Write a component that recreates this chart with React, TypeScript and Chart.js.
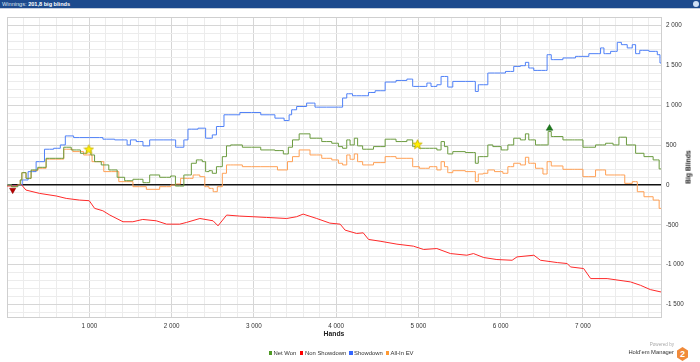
import React, { useEffect, useRef } from 'react';
import { Chart, registerables } from 'chart.js';
Chart.register(...registerables);

// ---- data (hands / big blinds) ----
const netWonHands = [0, 110, 150, 172, 190, 273, 313, 435, 516, 659, 720, 842, 943, 995, 1044, 1085, 1207, 1268, 1410, 1450, 1612, 1694, 1775, 1937, 2040, 2055, 2140, 2160, 2221, 2261, 2343, 2404, 2425, 2486, 2505, 2587, 2648, 2688, 2749, 2973, 3196, 3318, 3400, 3440, 3501, 3602, 3765, 3887, 4008, 4049, 4110, 4150, 4191, 4252, 4272, 4374, 4536, 4658, 4800, 4922, 4941, 5084, 5185, 5266, 5287, 5348, 5368, 5470, 5673, 5713, 5745, 5835, 5855, 5957, 6058, 6119, 6200, 6281, 6322, 6363, 6485, 6570, 6586, 6646, 6870, 6930, 7073, 7236, 7317, 7418, 7459, 7601, 7682, 7804, 7905, 7950];
const netWonValues = [0, -21, 0, 63, 155, 84, 189, 222, 335, 335, 474, 440, 398, 440, 377, 293, 252, 189, 97, 54, 72, 29, 126, 97, 113, -13, -13, 126, 126, 273, 315, 293, 168, 180, 147, 230, 356, 491, 503, 474, 440, 432, 390, 474, 566, 642, 587, 545, 524, 482, 461, 566, 503, 587, 491, 449, 482, 575, 545, 566, 482, 461, 461, 440, 545, 482, 390, 419, 407, 273, 356, 356, 503, 482, 440, 503, 587, 566, 642, 566, 503, 503, 671, 608, 566, 566, 474, 503, 524, 503, 600, 503, 398, 356, 315, 202];

const nonShowdownHands = [0, 100, 170, 230, 395, 600, 720, 880, 1000, 1065, 1165, 1250, 1410, 1530, 1650, 1815, 1940, 2100, 2180, 2345, 2505, 2565, 2670, 2830, 2990, 3155, 3400, 3520, 3600, 3765, 3925, 4050, 4110, 4250, 4330, 4395, 4535, 4740, 4940, 5065, 5225, 5390, 5590, 5670, 5795, 5955, 6140, 6200, 6405, 6485, 6690, 6810, 6850, 7010, 7095, 7295, 7500, 7580, 7700, 7820, 7950];
const nonShowdownValues = [-12, -12, 10, -63, -105, -138, -168, -189, -197, -293, -323, -377, -461, -461, -432, -449, -491, -491, -470, -420, -449, -512, -377, -390, -398, -407, -420, -398, -365, -420, -478, -491, -566, -608, -600, -683, -705, -742, -767, -809, -797, -860, -881, -860, -910, -935, -944, -902, -881, -944, -973, -985, -1028, -1048, -1174, -1174, -1204, -1216, -1258, -1312, -1342];

const showdownHands = [0, 110, 170, 200, 313, 395, 516, 618, 678, 740, 880, 1125, 1207, 1410, 1450, 1470, 1530, 1612, 1694, 1775, 2040, 2060, 2140, 2160, 2240, 2404, 2425, 2486, 2505, 2587, 2688, 2973, 3196, 3318, 3419, 3440, 3480, 3561, 3723, 3765, 4008, 4049, 4110, 4150, 4250, 4374, 4414, 4536, 4658, 4800, 4922, 4941, 5084, 5124, 5185, 5266, 5287, 5348, 5368, 5470, 5673, 5713, 5745, 5835, 5855, 6000, 6119, 6200, 6281, 6322, 6363, 6444, 6545, 6586, 6646, 6870, 6951, 7195, 7236, 7277, 7398, 7438, 7499, 7580, 7621, 7662, 7722, 7885, 7925, 7950];
const showdownValues = [0, -10, 0, 63, 168, 293, 449, 461, 503, 616, 595, 595, 575, 566, 566, 503, 566, 545, 491, 566, 566, 474, 474, 566, 701, 713, 587, 587, 629, 734, 881, 910, 881, 839, 809, 881, 944, 985, 1028, 977, 977, 977, 1091, 1145, 1120, 1120, 1161, 1183, 1292, 1312, 1329, 1237, 1237, 1279, 1237, 1258, 1362, 1362, 1229, 1300, 1300, 1174, 1258, 1258, 1405, 1405, 1425, 1488, 1497, 1539, 1468, 1438, 1438, 1635, 1573, 1594, 1614, 1648, 1720, 1648, 1677, 1790, 1761, 1720, 1761, 1648, 1690, 1677, 1635, 1531];

const allInEvHands = [0, 110, 150, 172, 190, 273, 313, 435, 516, 659, 720, 880, 983, 1085, 1268, 1450, 1612, 1775, 1937, 2040, 2060, 2160, 2221, 2303, 2384, 2425, 2486, 2526, 2587, 2648, 2688, 2749, 2973, 3196, 3379, 3440, 3501, 3602, 3765, 3887, 4008, 4049, 4110, 4150, 4191, 4252, 4272, 4374, 4536, 4658, 4800, 4922, 4941, 5084, 5185, 5266, 5287, 5348, 5368, 5470, 5673, 5713, 5745, 5835, 5855, 5997, 6058, 6119, 6200, 6281, 6322, 6363, 6485, 6545, 6586, 6646, 6870, 6930, 7073, 7236, 7317, 7459, 7560, 7642, 7682, 7804, 7905, 7950];
const allInEvValues = [0, -21, 0, 63, 155, 84, 180, 210, 325, 325, 449, 419, 377, 293, 168, 42, -21, -54, -21, 0, 13, 84, 84, 126, 105, -21, -42, -84, -21, 147, 252, 252, 230, 230, 189, 293, 356, 440, 377, 335, 315, 273, 252, 377, 323, 390, 293, 252, 281, 356, 335, 335, 230, 210, 230, 189, 293, 230, 155, 180, 168, 42, 138, 147, 189, 168, 147, 230, 273, 252, 348, 273, 210, 138, 293, 239, 197, 197, 105, 189, 126, 126, 21, 42, -84, -147, -189, -293];

// markers
const downMarkerHands = [69];
const downMarkerValues = [-63];
const starMarkerHands = [995, 4990];
const starMarkerValues = [449, 512];
const upMarkerHands = [6595];
const upMarkerValues = [711];

// axis ticks
const xLabelTicks = [1000, 2000, 3000, 4000, 5000, 6000, 7000];
const yLabelTicks = [-1500, -1000, -500, 0, 500, 1000, 1500, 2000];
const xMin = 0, xMax = 7950, xGridStep = 200;
const yMin = -1656, yMax = 2108, yGridStep = 100;

const seriesNames = ['Net Won', 'Non Showdown', 'Showdown', 'All-In EV'];
const seriesColors = ['#6b9b3f', '#ff2a2a', '#4f80f7', '#ffa055'];
const seriesStepped: (string | boolean)[] = ['middle', false, 'middle', 'middle'];
const legendSquareColors = ['#4f9a25', '#ff0000', '#3366ff', '#ff9933'];

const FONT = '"Liberation Sans", Arial, sans-serif';

function fmt(v: number): string {
  const s = Math.abs(v).toString().replace(/\B(?=(\d{3})+(?!\d))/g, ' ');
  return (v < 0 ? '-' : '') + s;
}

function makeStar(): HTMLCanvasElement {
  const c = document.createElement('canvas');
  c.width = 11; c.height = 11;
  const g = c.getContext('2d')!;
  g.beginPath();
  for (let i = 0; i < 10; i++) {
    const r = i % 2 === 0 ? 5 : 2.2;
    const a = -Math.PI / 2 + (i * Math.PI) / 5;
    g.lineTo(5.5 + r * Math.cos(a), 5.9 + r * Math.sin(a));
  }
  g.closePath();
  g.fillStyle = '#fff000';
  g.fill();
  g.strokeStyle = '#c9b000';
  g.lineWidth = 0.8;
  g.stroke();
  return c;
}

const toPts = (h: number[], v: number[]) => h.map((x, i) => ({ x, y: v[i] }));

const borderPlugin = {
  id: 'plotBorder',
  beforeDatasetsDraw(chart: any) {
    const { ctx, chartArea: a } = chart;
    ctx.save();
    ctx.strokeStyle = '#cfcfcf';
    ctx.lineWidth = 1;
    ctx.strokeRect(Math.round(a.left) + 0.5, Math.round(a.top) + 0.5, Math.round(a.right - a.left), Math.round(a.bottom - a.top));
    ctx.restore();
  },
};

export default function App() {
  const ref = useRef<HTMLCanvasElement>(null);

  useEffect(() => {
    const canvas = ref.current!;
    const star = makeStar();
    const xTicks: number[] = [];
    for (let v = xMin; v < xMax; v += xGridStep) xTicks.push(v);
    const yTicks: number[] = [];
    for (let v = Math.ceil(yMin / yGridStep) * yGridStep; v <= yMax; v += yGridStep) yTicks.push(v);

    const lineDs = (i: number, h: number[], v: number[]) => ({
      label: seriesNames[i],
      data: toPts(h, v),
      borderColor: seriesColors[i],
      backgroundColor: seriesColors[i],
      borderWidth: 1,
      pointRadius: 0,
      tension: 0,
      stepped: seriesStepped[i],
      fill: false,
    });

    const chart = new Chart(canvas, {
      type: 'line',
      data: {
        datasets: [
          {
            label: 'down', data: toPts(downMarkerHands, downMarkerValues), showLine: false,
            pointStyle: 'triangle', pointRotation: 180, pointRadius: 3.6,
            pointBackgroundColor: '#b80000', pointBorderColor: '#8a0000', pointBorderWidth: 0.5,
          } as any,
          {
            label: 'star', data: toPts(starMarkerHands, starMarkerValues), showLine: false,
            pointStyle: star, pointRadius: 5,
          } as any,
          {
            label: 'up', data: toPts(upMarkerHands, upMarkerValues), showLine: false,
            pointStyle: 'triangle', pointRadius: 3.8,
            pointBackgroundColor: '#1d7a1d', pointBorderColor: '#0f5a0f', pointBorderWidth: 0.5,
          } as any,
          lineDs(0, netWonHands, netWonValues),
          lineDs(1, nonShowdownHands, nonShowdownValues),
          lineDs(2, showdownHands, showdownValues),
          lineDs(3, allInEvHands, allInEvValues),
        ],
      },
      options: {
        animation: false,
        responsive: false,
        maintainAspectRatio: false,
        events: [],
        layout: { padding: { left: 7, top: 17, right: 0, bottom: 0 } },
        plugins: { legend: { display: false }, tooltip: { enabled: false }, title: { display: false } },
        scales: {
          x: {
            type: 'linear',
            position: 'bottom',
            min: xMin,
            max: xMax,
            afterBuildTicks: (s: any) => { s.ticks = xTicks.map((v) => ({ value: v })); },
            afterFit: (s: any) => { s.height = 45; },
            grid: {
              drawTicks: false,
              color: (c: any) => (c.tick && c.tick.value % 1000 === 0 ? '#d6d6d6' : '#ececec'),
            },
            border: { color: '#cfcfcf' },
            ticks: {
              autoSkip: false,
              maxRotation: 0,
              padding: 5,
              color: '#333',
              font: { family: FONT, size: 6.3 },
              callback: (v: any) => (xLabelTicks.includes(Number(v)) ? fmt(Number(v)) : ''),
            },
            title: {
              display: true,
              text: 'Hands',
              color: '#222',
              font: { family: FONT, size: 6.8, weight: 'bold' },
              padding: { top: 0, bottom: 24 },
            },
          },
          y: {
            type: 'linear',
            position: 'right',
            min: yMin,
            max: yMax,
            afterBuildTicks: (s: any) => { s.ticks = yTicks.map((v) => ({ value: v })); },
            afterFit: (s: any) => { s.width = 39; },
            grid: {
              drawTicks: false,
              color: (c: any) => {
                const v = c.tick ? c.tick.value : 1;
                if (v === 0) return '#111';
                return v % 500 === 0 ? '#d6d6d6' : '#ececec';
              },
              lineWidth: (c: any) => (c.tick && c.tick.value === 0 ? 1.6 : 1),
            },
            border: { color: '#cfcfcf' },
            ticks: {
              autoSkip: false,
              padding: 5,
              color: '#333',
              font: { family: FONT, size: 6.3 },
              callback: (v: any) => (yLabelTicks.includes(Number(v)) ? fmt(Number(v)) : ''),
            },
          },
        },
      },
      plugins: [borderPlugin],
    } as any);
    return () => chart.destroy();
  }, []);

  const legendPos = [
    { sq: 268.5, tx: 273.4 },
    { sq: 299.8, tx: 305 },
    { sq: 349, tx: 354 },
    { sq: 385.7, tx: 390.6 },
  ];

  return (
    <div style={{ position: 'fixed', left: 0, top: 0, width: 700, height: 362, background: '#fff', fontFamily: FONT, overflow: 'hidden' }}>
      <canvas ref={ref} width={700} height={362} style={{ position: 'absolute', left: 0, top: 0, width: 700, height: 362 }} />
      <div style={{ position: 'absolute', left: 0, top: 0, width: 700, height: 8, background: '#1c4a8d', borderBottom: '1px solid #c5cfdd', color: '#fff', fontSize: 5.6, lineHeight: '8px', paddingLeft: 2, boxSizing: 'content-box', whiteSpace: 'nowrap' }}>
        <span style={{ color: '#dfe7f2' }}>Winnings: </span>
        <span style={{ fontWeight: 'bold' }}>201,8 big blinds</span>
      </div>
      <div style={{ position: 'absolute', left: 693, top: 1, width: 6, height: 6, borderRadius: 3, background: '#cfe0f5' }} />
      <div style={{ position: 'absolute', left: 688, top: 167, transform: 'translate(-50%, -50%) rotate(-90deg)', fontSize: 6.8, fontWeight: 'bold', color: '#222', whiteSpace: 'nowrap' }}>Big Blinds</div>
      {seriesNames.map((n, i) => (
        <React.Fragment key={n}>
          <div style={{ position: 'absolute', left: legendPos[i].sq, top: 351, width: 3.5, height: 3.5, background: legendSquareColors[i] }} />
          <div style={{ position: 'absolute', left: legendPos[i].tx, top: 349, fontSize: 5.9, lineHeight: '8px', color: '#333', whiteSpace: 'nowrap' }}>{n}</div>
        </React.Fragment>
      ))}
      <div style={{ position: 'absolute', right: 26, top: 342, fontSize: 4.6, lineHeight: '6px', color: '#aaa', whiteSpace: 'nowrap' }}>Powered by</div>
      <div style={{ position: 'absolute', right: 26, top: 348, fontSize: 5.8, lineHeight: '8px', color: '#333', whiteSpace: 'nowrap' }}>Hold'em Manager</div>
      <div style={{ position: 'absolute', left: 677, top: 347, width: 11, height: 14, background: '#f08a3a', clipPath: 'polygon(50% 0, 100% 25%, 100% 75%, 50% 100%, 0 75%, 0 25%)', color: '#fff', fontWeight: 'bold', fontSize: 9, lineHeight: '14px', textAlign: 'center' }}>2</div>
    </div>
  );
}
